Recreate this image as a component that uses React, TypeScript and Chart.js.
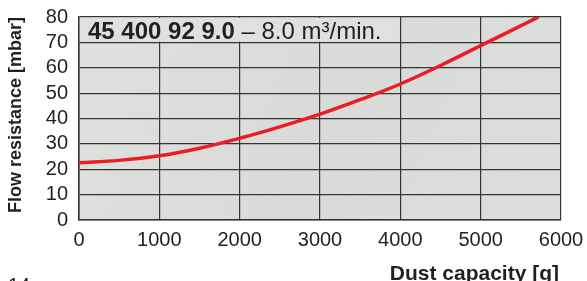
import { useEffect, useRef } from "react";
import { Chart, registerables } from "chart.js";

Chart.register(...registerables);

const dustCapacity = [0, 500, 1000, 1500, 2000, 2500, 3000, 3500, 4000, 4500, 5000, 5720];
const flowResistance = [22.6, 23.5, 25.3, 28.3, 32.2, 36.7, 41.7, 47.4, 53.6, 60.9, 68.7, 80];
const xTickValues = [0, 1000, 2000, 3000, 4000, 5000, 6000];
const yTickValues = [0, 10, 20, 30, 40, 50, 60, 70, 80];
const xTitle = "Dust capacity [g]";
const yTitle = "Flow resistance [mbar]";
const headerBold = "45 400 92 9.0";
const headerRest = " – 8.0 m³/min.";
const pageNumber = "14";

const FONT = "'Liberation Sans', Arial, Helvetica, sans-serif";
const TEXT = "#231f20";
const GRID = "#353535";

export default function App() {
  const ref = useRef<HTMLCanvasElement | null>(null);

  useEffect(() => {
    const canvas = ref.current;
    if (!canvas) return;

    const decor = {
      id: "decor",
      beforeDraw(chart: any) {
        const { ctx, chartArea: a } = chart;
        ctx.save();
        ctx.fillStyle = "#ffffff";
        ctx.fillRect(0, 0, chart.width, chart.height);
        const g = ctx.createLinearGradient(a.left, a.top, a.right, a.bottom);
        g.addColorStop(0, "#dfe1df");
        g.addColorStop(0.5, "#d9dbd9");
        g.addColorStop(1, "#dcdedc");
        ctx.fillStyle = g;
        ctx.fillRect(a.left, a.top, a.right - a.left, a.bottom - a.top);
        ctx.restore();
      },
      beforeDatasetsDraw(chart: any) {
        const { ctx, chartArea: a, scales } = chart;
        const xEnd = scales.x.getPixelForValue(4000);
        const yEnd = scales.y.getPixelForValue(70);
        ctx.save();
        ctx.fillStyle = "#dfe1df";
        ctx.fillRect(a.left + 0.8, a.top + 0.8, xEnd - a.left - 1.5, yEnd - a.top - 1.5);
        ctx.fillStyle = TEXT;
        ctx.textBaseline = "alphabetic";
        ctx.textAlign = "left";
        ctx.font = `bold 24px ${FONT}`;
        ctx.fillText(headerBold, a.left + 9, a.top + 22);
        const w = ctx.measureText(headerBold).width;
        ctx.font = `24px ${FONT}`;
        ctx.fillText(headerRest, a.left + 9 + w, a.top + 22);
        ctx.restore();
      },
      afterDraw(chart: any) {
        const { ctx, chartArea: a } = chart;
        ctx.save();
        ctx.fillStyle = TEXT;
        ctx.font = `bold 21px ${FONT}`;
        ctx.textAlign = "right";
        ctx.textBaseline = "alphabetic";
        ctx.fillText(xTitle, a.right - 2, 280);
        ctx.font = `bold 18px ${FONT}`;
        ctx.translate(16, 115);
        ctx.rotate(-Math.PI / 2);
        ctx.textAlign = "center";
        ctx.textBaseline = "middle";
        ctx.fillText(yTitle, 0, 0);
        ctx.restore();
        ctx.save();
        ctx.fillStyle = TEXT;
        ctx.font = `20px ${FONT}`;
        ctx.textAlign = "left";
        ctx.textBaseline = "alphabetic";
        ctx.fillText(pageNumber, 8, 292);
        ctx.restore();
      },
    };

    const chart = new Chart(canvas, {
      type: "scatter",
      data: {
        datasets: [
          {
            data: dustCapacity.map((x, i) => ({ x, y: flowResistance[i] })),
            showLine: true,
            borderColor: "#ec1c24",
            borderWidth: 3.5,
            pointRadius: 0,
            tension: 0.4,
            fill: false,
          },
        ],
      },
      options: {
        responsive: false,
        animation: false,
        devicePixelRatio: 1,
        layout: { padding: { top: 17, right: 26, bottom: 0, left: 0 } },
        plugins: {
          legend: { display: false },
          tooltip: { enabled: false },
          title: { display: false },
        },
        scales: {
          x: {
            type: "linear",
            min: 0,
            max: 6000,
            afterBuildTicks: (axis: any) => {
              axis.ticks = xTickValues.map((v) => ({ value: v }));
            },
            afterFit: (axis: any) => {
              axis.height = 61;
              axis.paddingLeft = 0;
              axis.paddingRight = 0;
            },
            ticks: {
              color: TEXT,
              font: { family: FONT, size: 20 },
              padding: 8,
              maxRotation: 0,
              autoSkip: false,
              callback: (v: any) => String(v),
            },
            grid: { color: GRID, lineWidth: 1.2, drawTicks: false },
            border: { color: GRID, width: 1.6 },
          },
          y: {
            type: "linear",
            min: 0,
            max: 80,
            afterBuildTicks: (axis: any) => {
              axis.ticks = yTickValues.map((v) => ({ value: v }));
            },
            afterFit: (axis: any) => {
              axis.width = 79;
              axis.paddingTop = 0;
              axis.paddingBottom = 0;
            },
            ticks: {
              color: TEXT,
              font: { family: FONT, size: 20 },
              padding: 11,
              autoSkip: false,
              callback: (v: any) => String(v),
            },
            grid: { color: GRID, lineWidth: 1.2, drawTicks: false },
            border: { color: GRID, width: 1.6 },
          },
        },
      },
      plugins: [decor],
    });

    return () => chart.destroy();
  }, []);

  return (
    <div style={{ position: "absolute", left: 0, top: 0, width: 587, height: 281 }}>
      <canvas ref={ref} width={587} height={281} style={{ display: "block", width: 587, height: 281 }} />
    </div>
  );
}
